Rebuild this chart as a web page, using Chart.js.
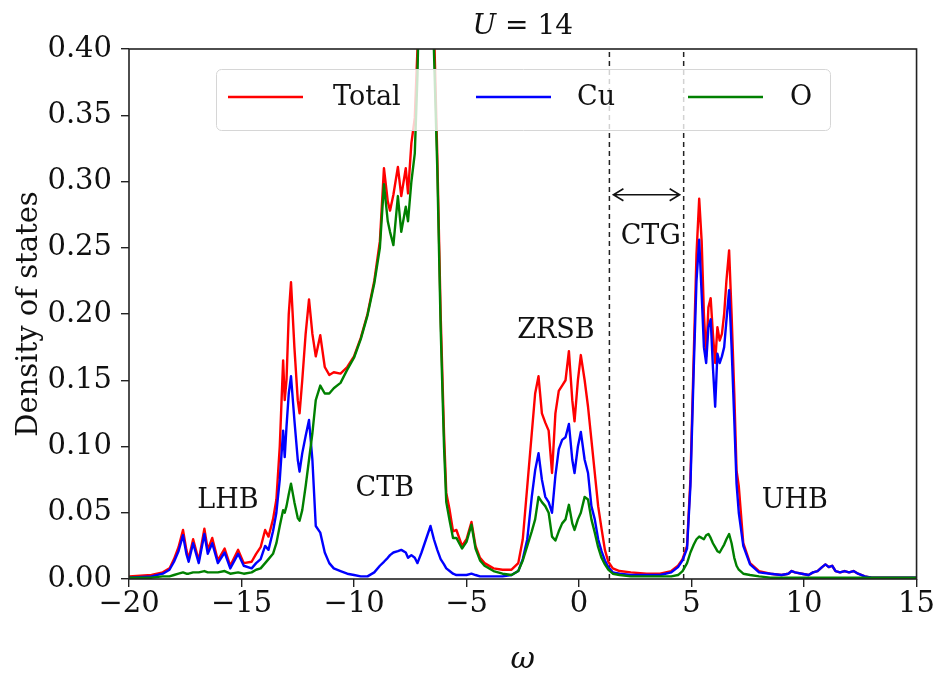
<!DOCTYPE html>
<html><head><meta charset="utf-8">
<script src="https://cdn.jsdelivr.net/npm/chart.js@4/dist/chart.umd.min.js"></script>
<style>html,body{margin:0;padding:0;background:#fff;overflow:hidden}#wrap{width:935px;height:678px}</style>
</head><body><div id="wrap"><canvas id="c" width="935" height="678"></canvas></div>
<script>
// ---- data ----
const omega = [
 -20,-19,-18.5,-18.2,-18.0,-17.8,-17.6,-17.45,-17.35,-17.15,
 -16.9,-16.65,-16.5,-16.3,-16.05,-15.75,-15.5,-15.15,-14.9,-14.55,
 -14.35,-14.15,-13.95,-13.8,-13.6,-13.45,-13.3,-13.15,-13.08,-13.0,
 -12.9,-12.8,-12.65,-12.5,-12.42,-12.3,-12.15,-12.0,-11.85,-11.7,
 -11.5,-11.3,-11.1,-10.9,-10.6,-10.3,-10.0,-9.7,-9.4,-9.1,
 -8.85,-8.67,-8.5,-8.4,-8.25,-8.05,-7.9,-7.7,-7.6,-7.45,
 -7.3,-7.18,-7.0,-6.8,-6.6,-6.45,-6.3,-6.15,-6.0,-5.9,
 -5.75,-5.6,-5.45,-5.2,-5.0,-4.78,-4.6,-4.4,-4.2,-3.8,
 -3.4,-3.0,-2.7,-2.5,-2.3,-2.1,-1.95,-1.8,-1.65,-1.5,
 -1.35,-1.2,-1.05,-0.9,-0.75,-0.6,-0.45,-0.3,-0.2,-0.05,
 0.08,0.25,0.4,0.55,0.7,0.85,1.0,1.15,1.3,1.5,
 1.8,2.3,3.0,3.6,4.1,4.4,4.6,4.8,4.95,5.1,
 5.22,5.34,5.45,5.55,5.65,5.75,5.85,5.95,6.05,6.15,
 6.25,6.35,6.45,6.55,6.67,6.78,6.9,7.0,7.1,7.3,
 7.6,8.0,8.5,9.0,9.3,9.45,9.6,9.9,10.2,10.4,
 10.6,10.8,10.95,11.1,11.25,11.4,11.6,11.8,12.0,12.2,
 12.4,12.7,13.0,14.0,15.0];
const total = [
 0.002,0.003,0.005,0.008,0.015,0.024,0.037,0.022,0.015,0.030,
 0.014,0.038,0.022,0.031,0.014,0.023,0.010,0.022,0.012,0.013,
 0.019,0.024,0.037,0.032,0.045,0.060,0.100,0.165,0.135,0.150,
 0.200,0.224,0.175,0.135,0.125,0.150,0.185,0.211,0.185,0.168,
 0.184,0.160,0.154,0.156,0.155,0.160,0.168,0.182,0.200,0.225,
 0.255,0.310,0.285,0.278,0.290,0.311,0.289,0.310,0.291,0.329,
 0.348,0.400,0.550,0.620,0.550,0.420,0.320,0.200,0.110,0.065,
 0.052,0.036,0.037,0.025,0.030,0.043,0.025,0.016,0.012,0.008,
 0.007,0.007,0.012,0.030,0.070,0.110,0.140,0.153,0.125,0.118,
 0.112,0.080,0.125,0.142,0.146,0.150,0.172,0.135,0.119,0.150,
 0.169,0.150,0.130,0.105,0.080,0.055,0.038,0.022,0.013,0.008,
 0.006,0.005,0.004,0.004,0.006,0.010,0.015,0.025,0.075,0.170,
 0.245,0.287,0.255,0.200,0.168,0.205,0.212,0.185,0.163,0.190,
 0.180,0.185,0.200,0.225,0.248,0.200,0.140,0.082,0.070,0.027,
 0.012,0.006,0.004,0.003,0.004,0.006,0.005,0.004,0.003,0.005,
 0.006,0.009,0.011,0.009,0.010,0.006,0.005,0.006,0.005,0.006,
 0.004,0.002,0.001,0.001,0.001];
const cu = [
 0.001,0.002,0.004,0.007,0.013,0.021,0.033,0.019,0.013,0.027,
 0.012,0.034,0.019,0.027,0.012,0.020,0.008,0.019,0.010,0.008,
 0.012,0.015,0.025,0.022,0.036,0.050,0.075,0.112,0.092,0.115,
 0.140,0.153,0.120,0.090,0.081,0.095,0.108,0.120,0.090,0.040,
 0.035,0.020,0.012,0.008,0.006,0.004,0.003,0.002,0.002,0.005,
 0.010,0.013,0.016,0.018,0.020,0.021,0.022,0.020,0.016,0.018,
 0.016,0.012,0.020,0.030,0.040,0.030,0.022,0.015,0.011,0.008,
 0.006,0.004,0.003,0.003,0.003,0.004,0.003,0.002,0.002,0.002,
 0.002,0.003,0.006,0.015,0.030,0.062,0.082,0.095,0.075,0.062,
 0.058,0.050,0.078,0.098,0.105,0.107,0.117,0.090,0.080,0.100,
 0.111,0.090,0.080,0.055,0.045,0.030,0.021,0.014,0.009,0.005,
 0.004,0.003,0.003,0.003,0.005,0.009,0.014,0.023,0.070,0.160,
 0.225,0.256,0.215,0.175,0.163,0.190,0.196,0.160,0.130,0.170,
 0.163,0.168,0.175,0.195,0.218,0.175,0.120,0.072,0.050,0.025,
 0.011,0.005,0.004,0.003,0.004,0.006,0.005,0.004,0.003,0.005,
 0.006,0.009,0.011,0.009,0.010,0.006,0.005,0.006,0.005,0.006,
 0.004,0.002,0.001,0.001,0.001];
const oxygen = [
 0.001,0.001,0.002,0.002,0.003,0.004,0.005,0.004,0.004,0.005,
 0.005,0.006,0.005,0.005,0.005,0.006,0.004,0.005,0.004,0.005,
 0.007,0.008,0.012,0.015,0.019,0.027,0.040,0.052,0.050,0.055,
 0.064,0.072,0.058,0.046,0.044,0.052,0.070,0.090,0.110,0.135,
 0.146,0.140,0.140,0.144,0.148,0.158,0.167,0.181,0.199,0.223,
 0.250,0.298,0.270,0.262,0.252,0.289,0.262,0.281,0.270,0.300,
 0.321,0.380,0.530,0.590,0.510,0.400,0.310,0.190,0.100,0.058,
 0.044,0.031,0.031,0.023,0.028,0.041,0.023,0.014,0.010,0.006,
 0.004,0.003,0.006,0.014,0.025,0.036,0.045,0.062,0.058,0.055,
 0.050,0.032,0.029,0.036,0.042,0.045,0.056,0.042,0.037,0.045,
 0.050,0.062,0.060,0.045,0.035,0.024,0.016,0.011,0.007,0.004,
 0.003,0.002,0.002,0.002,0.002,0.003,0.006,0.012,0.020,0.026,
 0.030,0.032,0.031,0.030,0.033,0.034,0.031,0.027,0.024,0.021,
 0.020,0.023,0.026,0.030,0.034,0.027,0.016,0.010,0.007,0.004,
 0.003,0.002,0.001,0.001,0.001,0.001,0.001,0.001,0.001,0.001,
 0.001,0.001,0.001,0.001,0.001,0.001,0.001,0.001,0.001,0.001,
 0.001,0.001,0.001,0.001,0.001];
const seriesNames = ['Total', 'Cu', 'O'];
const xTicks = [-20, -15, -10, -5, 0, 5, 10, 15];
const yTicks = [0, 0.05, 0.10, 0.15, 0.20, 0.25, 0.30, 0.35, 0.40];
const gapEdges = [1.35, 4.65];          // dashed lines (charge-transfer gap)
const bandNames = ['LHB', 'CTB', 'ZRSB', 'CTG', 'UHB'];
const bandAtOmega = [-15.6, -8.63, -1.03, 3.19, 9.59];
const bandAtDos = [0.059, 0.068, 0.187, 0.258, 0.059];
const arrowAtDos = 0.29;

// ---- styling ----
const FONT = '"DejaVu Serif", serif';
const colors = ['#ff0000', '#0000ff', '#008000'];
const pts = arr => omega.map((w, i) => ({x: w, y: arr[i]}));
const minus = v => (v < 0 ? '\u2212' + Math.abs(v) : String(v));

const datasets = [total, cu, oxygen].map((arr, i) => ({
  label: seriesNames[i], data: pts(arr), borderColor: colors[i], borderWidth: 2.4,
  pointRadius: 0, tension: 0, fill: false, order: 3 - i, borderJoinStyle: 'round'
}));
gapEdges.forEach(g => datasets.push({
  label: '_gap', data: [{x: g, y: yTicks[0]}, {x: g, y: yTicks[yTicks.length - 1]}],
  borderColor: '#222', borderWidth: 1.5, borderDash: [5, 4], pointRadius: 0, order: 10
}));

const overlay = {
  id: 'overlay',
  afterDatasetsDraw(chart) {
    const {ctx, chartArea: a, scales: {x, y}} = chart;
    ctx.save();
    // band labels
    ctx.fillStyle = '#111';
    ctx.font = '27px ' + FONT;
    ctx.textAlign = 'center'; ctx.textBaseline = 'middle';
    bandNames.forEach((n, i) => ctx.fillText(n, x.getPixelForValue(bandAtOmega[i]), y.getPixelForValue(bandAtDos[i])));
    // double arrow
    const x1 = x.getPixelForValue(gapEdges[0]) + 4, x2 = x.getPixelForValue(gapEdges[1]) - 4;
    const ya = y.getPixelForValue(arrowAtDos);
    ctx.strokeStyle = '#111'; ctx.lineWidth = 1.6;
    ctx.beginPath();
    ctx.moveTo(x1, ya); ctx.lineTo(x2, ya);
    ctx.moveTo(x1 + 10, ya - 6); ctx.lineTo(x1, ya); ctx.lineTo(x1 + 10, ya + 6);
    ctx.moveTo(x2 - 10, ya - 6); ctx.lineTo(x2, ya); ctx.lineTo(x2 - 10, ya + 6);
    ctx.stroke();
    // frame
    ctx.strokeStyle = '#222'; ctx.lineWidth = 1.6;
    ctx.strokeRect(a.left, a.top, a.right - a.left, a.bottom - a.top);
    // legend
    const L = {x: 216, y: 69, w: 614, h: 61, r: 5};
    ctx.beginPath();
    ctx.roundRect(L.x + 0.5, L.y + 0.5, L.w, L.h, L.r);
    ctx.fillStyle = 'rgba(255,255,255,0.8)'; ctx.fill();
    ctx.strokeStyle = '#d6d6d6'; ctx.lineWidth = 1; ctx.stroke();
    const lineX = [228, 476, 688], textX = [333, 577, 790], cy = 97;
    ctx.font = '27px ' + FONT; ctx.textAlign = 'left'; ctx.textBaseline = 'middle';
    for (let i = 0; i < 3; i++) {
      ctx.strokeStyle = colors[i]; ctx.lineWidth = 2.4;
      ctx.beginPath(); ctx.moveTo(lineX[i], cy); ctx.lineTo(lineX[i] + 75, cy); ctx.stroke();
      ctx.fillStyle = '#111'; ctx.fillText(chart.data.datasets[i].label, textX[i], cy + 1);
    }
    ctx.restore();
  },
  afterDraw(chart) {
    const {ctx, chartArea: a} = chart;
    ctx.save();
    ctx.fillStyle = '#111'; ctx.textBaseline = 'middle'; ctx.textAlign = 'left';
    const iFont = 'italic 28px ' + FONT, rFont = '28px ' + FONT;
    ctx.font = iFont; const wU = ctx.measureText('U').width;
    ctx.font = rFont; const wR = ctx.measureText(' = 14').width;
    let cx = (a.left + a.right) / 2 - (wU + wR) / 2;
    ctx.font = iFont; ctx.fillText('U', cx, 27);
    ctx.font = rFont; ctx.fillText(' = 14', cx + wU, 27);
    ctx.restore();
  }
};

new Chart(document.getElementById('c'), {
  type: 'line',
  data: {datasets},
  options: {
    responsive: false, animation: false, devicePixelRatio: 1,
    layout: {padding: {top: 49, right: 18, left: 0, bottom: 0}},
    plugins: {legend: {display: false}, tooltip: {enabled: false}, title: {display: false}},
    scales: {
      x: {
        type: 'linear', min: xTicks[0], max: xTicks[xTicks.length - 1],
        afterBuildTicks: s => { s.ticks = xTicks.map(v => ({value: v})); },
        afterFit: s => { s.height = 99; },
        ticks: {callback: v => minus(v), font: {family: FONT, size: 29}, color: '#111', padding: 0, maxRotation: 0, autoSkip: false},
        grid: {drawOnChartArea: false, drawTicks: true, tickLength: 8, color: '#222', lineWidth: 1.4},
        border: {display: false},
        title: {display: true, text: '\u03c9', font: {family: FONT, size: 30, style: 'italic'}, color: '#111', padding: {top: 0, bottom: 0}}
      },
      y: {
        type: 'linear', min: yTicks[0], max: yTicks[yTicks.length - 1],
        afterBuildTicks: s => { s.ticks = yTicks.map(v => ({value: v})); },
        afterFit: s => { s.width = 129; },
        ticks: {callback: v => Number(v).toFixed(2), font: {family: FONT, size: 29}, color: '#111', padding: 9, autoSkip: false},
        grid: {drawOnChartArea: false, drawTicks: true, tickLength: 8, color: '#222', lineWidth: 1.4},
        border: {display: false},
        title: {display: true, text: 'Density of states', font: {family: FONT, size: 29}, color: '#111', padding: {top: 12, bottom: 0}}
      }
    }
  },
  plugins: [overlay]
});
</script>
</body></html>
